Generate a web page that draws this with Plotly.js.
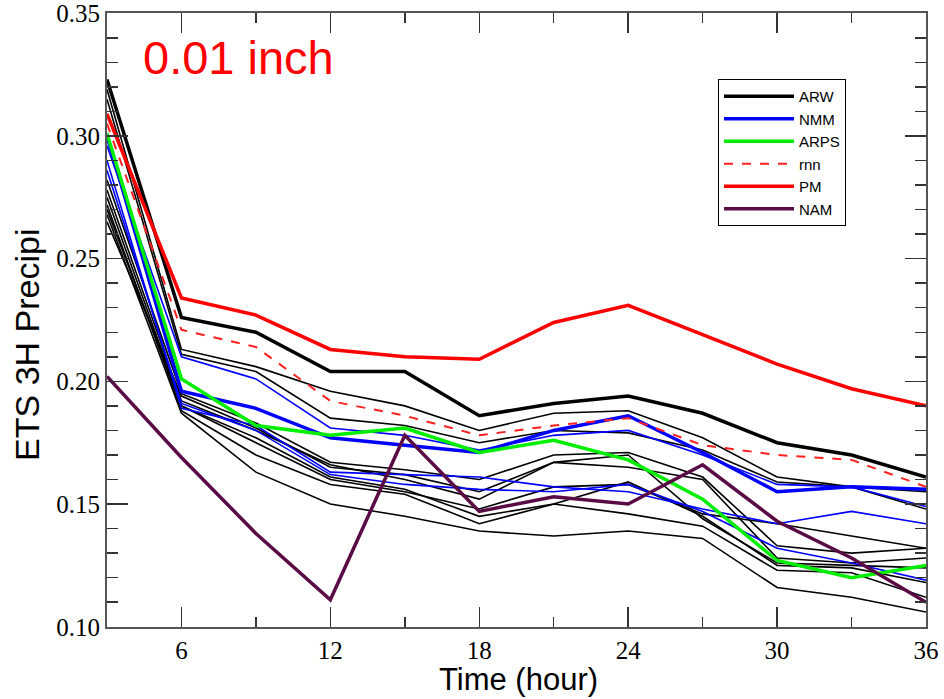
<!DOCTYPE html>
<html>
<head>
<meta charset="utf-8">
<script src="https://cdn.plot.ly/plotly-3.0.1.min.js"></script>
<style>html,body{margin:0;padding:0;background:#fff;}#chart{width:944px;height:699px;}</style>
</head>
<body>
<div id="chart"></div>
<script>
// Forecast hours
const hours = [3, 6, 9, 12, 15, 18, 21, 24, 27, 30, 33, 36];

// ARW control (thick) and ARW ensemble members (thin)
const arwCtl = [0.323, 0.226, 0.220, 0.204, 0.204, 0.186, 0.191, 0.194, 0.187, 0.175, 0.170, 0.161];
const arwM1 = [0.319, 0.213, 0.206, 0.196, 0.190, 0.180, 0.187, 0.188, 0.177, 0.161, 0.157, 0.148];
const arwM2 = [0.315, 0.211, 0.204, 0.185, 0.182, 0.175, 0.180, 0.179, 0.172, 0.159, 0.157, 0.155];
const arwM3 = [0.282, 0.195, 0.183, 0.167, 0.164, 0.160, 0.170, 0.171, 0.161, 0.133, 0.130, 0.132];
const arwM4 = [0.278, 0.192, 0.180, 0.166, 0.160, 0.152, 0.167, 0.165, 0.160, 0.128, 0.126, 0.128];
const arwM5 = [0.275, 0.190, 0.177, 0.161, 0.156, 0.145, 0.150, 0.159, 0.145, 0.125, 0.124, 0.118];
const arwM6 = [0.272, 0.188, 0.170, 0.158, 0.154, 0.142, 0.150, 0.146, 0.141, 0.123, 0.122, 0.112];
const arwM7 = [0.268, 0.187, 0.163, 0.150, 0.145, 0.139, 0.137, 0.139, 0.136, 0.116, 0.112, 0.106];
const arwM8 = [0.270, 0.190, 0.175, 0.160, 0.155, 0.148, 0.157, 0.158, 0.146, 0.142, 0.137, 0.132];
const arwM9 = [0.265, 0.194, 0.181, 0.165, 0.162, 0.155, 0.167, 0.170, 0.144, 0.126, 0.125, 0.124];

// NMM control (thick) and NMM members (thin)
const nmmCtl = [0.300, 0.196, 0.189, 0.177, 0.174, 0.171, 0.180, 0.186, 0.171, 0.155, 0.157, 0.156];
const nmmM1 = [0.296, 0.210, 0.201, 0.181, 0.178, 0.172, 0.178, 0.180, 0.170, 0.158, 0.157, 0.149];
const nmmM2 = [0.290, 0.189, 0.182, 0.163, 0.162, 0.161, 0.157, 0.155, 0.148, 0.142, 0.147, 0.142];
const nmmM3 = [0.286, 0.191, 0.180, 0.162, 0.158, 0.156, 0.155, 0.158, 0.147, 0.132, 0.126, 0.119];

// Other systems
const arps = [0.301, 0.201, 0.182, 0.178, 0.181, 0.171, 0.176, 0.168, 0.152, 0.127, 0.120, 0.125];
const rnn  = [0.305, 0.221, 0.214, 0.192, 0.186, 0.178, 0.182, 0.185, 0.174, 0.170, 0.168, 0.157];
const pm   = [0.309, 0.234, 0.227, 0.213, 0.210, 0.209, 0.224, 0.231, 0.219, 0.207, 0.197, 0.190];
const nam  = [0.202, 0.169, 0.138, 0.111, 0.178, 0.147, 0.153, 0.150, 0.166, 0.143, 0.128, 0.110];

const xTicks = [6, 12, 18, 24, 30, 36];
const xMinor = [9, 15, 21, 27, 33];
const yTicks = [0.10, 0.15, 0.20, 0.25, 0.30, 0.35];
const yTickText = ['0.10', '0.15', '0.20', '0.25', '0.30', '0.35'];
const yMinor = [0.11, 0.12, 0.13, 0.14, 0.16, 0.17, 0.18, 0.19, 0.21, 0.22, 0.23, 0.24, 0.26, 0.27, 0.28, 0.29, 0.31, 0.32, 0.33, 0.34];
const legendNames = ['ARW', 'NMM', 'ARPS', 'rnn', 'PM', 'NAM'];

const traces = [];
function add(y, name, color, width, dash, showLeg, rank) {
  traces.push({
    x: hours, y: y, type: 'scatter', mode: 'lines', name: name,
    line: {color: color, width: width, dash: dash || 'solid'},
    showlegend: !!showLeg, legendrank: rank || 1000, hoverinfo: 'skip'
  });
}
[arwM1, arwM2, arwM3, arwM4, arwM5, arwM6, arwM7, arwM8, arwM9].forEach(s => add(s, 'ARW', '#000000', 1.6));
[nmmM1, nmmM2, nmmM3].forEach(s => add(s, 'NMM', '#0000ff', 1.6));
add(arwCtl, legendNames[0], '#000000', 3.5, 'solid', true, 1);
add(nmmCtl, legendNames[1], '#0000ff', 3.5, 'solid', true, 2);
add(arps, legendNames[2], '#00ee00', 3.5, 'solid', true, 3);
add(rnn, legendNames[3], '#ff2020', 2, 'dash', true, 4);
add(pm, legendNames[4], '#ff0000', 3.5, 'solid', true, 5);
add(nam, legendNames[5], '#5a0b45', 3.5, 'solid', true, 6);

const axisCommon = {
  showline: true, linecolor: '#555', linewidth: 2, mirror: 'ticks',
  ticks: 'inside', tickcolor: '#333', tickwidth: 1.5, showgrid: false, zeroline: false,
  ticklabeloverflow: 'allow',
  tickfont: {family: 'Liberation Serif', size: 25, color: '#000'}
};

const layout = {
  width: 944, height: 699,
  margin: {l: 107, r: 18, t: 13, b: 72},
  paper_bgcolor: '#fff', plot_bgcolor: '#fff',
  showlegend: true,
  legend: {
    x: 0.746, y: 0.8925, xanchor: 'left', yanchor: 'top',
    bordercolor: '#000', borderwidth: 1, bgcolor: '#fff',
    font: {family: 'Liberation Sans', size: 15, color: '#000'},
    itemwidth: 70, tracegroupgap: 0
  },
  xaxis: Object.assign({}, axisCommon, {
    range: [3, 36], tickmode: 'array', tickvals: xTicks, ticktext: xTicks.map(String),
    ticklen: 20,
    minor: {tickmode: 'array', tickvals: xMinor, ticks: 'inside', ticklen: 10, tickcolor: '#333', tickwidth: 1.5}
  }),
  yaxis: Object.assign({}, axisCommon, {
    range: [0.0999, 0.3501], tickmode: 'array', tickvals: yTicks, ticktext: yTickText,
    ticklen: 21,
    minor: {tickmode: 'array', tickvals: yMinor, ticks: 'inside', ticklen: 11, tickcolor: '#333', tickwidth: 1.5}
  }),
  annotations: [{
    xref: 'paper', yref: 'paper', x: 0.161, y: 0.928, xanchor: 'center', yanchor: 'middle',
    text: '0.01 inch', showarrow: false,
    font: {family: 'Liberation Sans', size: 47, color: '#ff0000'}
  }, {
    xref: 'paper', yref: 'paper', x: 0.503, y: -0.1173, xanchor: 'center', yanchor: 'bottom',
    text: 'Time (hour)', showarrow: false,
    font: {family: 'Liberation Sans', size: 31, color: '#000'}
  }, {
    xref: 'paper', yref: 'paper', x: -0.098, y: 0.459, xanchor: 'center', yanchor: 'middle',
    text: 'ETS 3H Precipi', showarrow: false, textangle: -90,
    font: {family: 'Liberation Sans', size: 34, color: '#000'}
  }]
};

Plotly.newPlot('chart', traces, layout, {displayModeBar: false, staticPlot: true});
</script>
</body>
</html>
